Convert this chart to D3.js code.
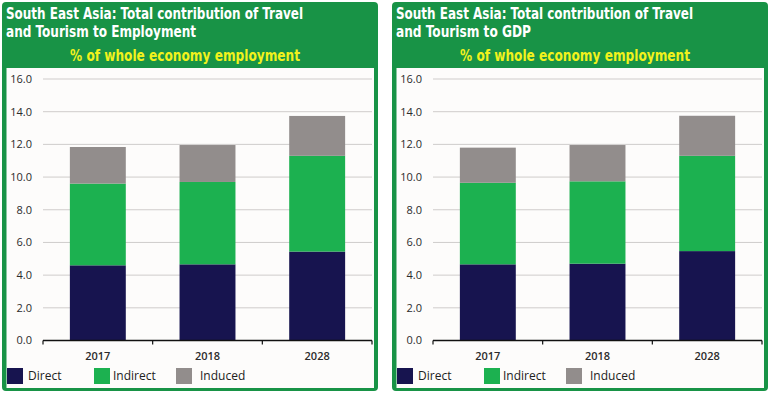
<!DOCTYPE html>
<html>
<head>
<meta charset="utf-8">
<script src="https://cdn.jsdelivr.net/npm/d3@7"></script>
<style>
  body { margin: 0; background: #fff; }
  svg { display: block; }
</style>
</head>
<body>
<svg width="770" height="393"></svg>
<script>
// data
const years = ['2017', '2018', '2028']
const seriesNames = ['Direct', 'Indirect', 'Induced']
const yTicks = [0, 2, 4, 6, 8, 10, 12, 14, 16]

const employmentDirect = [4.6, 4.66, 5.44]
const employmentIndirect = [5.0, 5.04, 5.86]
const employmentInduced = [2.24, 2.26, 2.44]

const gdpDirect = [4.66, 4.7, 5.47]
const gdpIndirect = [4.99, 5.04, 5.83]
const gdpInduced = [2.15, 2.22, 2.45]

const titles = [
  ['South East Asia: Total contribution of Travel', 'and Tourism to Employment'],
  ['South East Asia: Total contribution of Travel', 'and Tourism to GDP']
]
const subtitle = '% of whole economy employment'

let svg = d3.select('svg')

const frameGreen = '#189346'
const colors = {
  Direct: '#17144f',
  Indirect: '#1cb150',
  Induced: '#928d8c'
}

// shared scales (panel-relative coords)
const y = d3.scaleLinear().domain([0, 16]).range([338.5, 77])
const x = d3
  .scaleBand()
  .domain(years)
  .range([41, 370])
  .paddingInner(0.49)
  .paddingOuter(0.245)

const condensed = "'Liberation Sans Narrow', 'DejaVu Sans Condensed', sans-serif"

const drawPanel = (px, lines, direct, indirect, induced) => {
  let g = svg.append('g').attr('transform', `translate(${px}, 2)`)

  // frame
  g.append('rect')
    .attr('width', 376)
    .attr('height', 389)
    .attr('rx', 4)
    .attr('fill', frameGreen)
  g.append('rect')
    .attr('x', 4.5)
    .attr('y', 66)
    .attr('width', 367.5)
    .attr('height', 320)
    .attr('fill', '#fdfcfb')

  // titles
  const titleWidths = [297, lines[1].length > 20 ? 190 : 135]
  lines.forEach((t, i) => {
    g.append('text')
      .attr('x', 4)
      .attr('y', 17 + i * 18)
      .attr('fill', '#fff')
      .attr('font-family', condensed)
      .attr('font-weight', 'bold')
      .attr('font-size', 16)
      .attr('textLength', titleWidths[i])
      .attr('lengthAdjust', 'spacingAndGlyphs')
      .text(t)
  })
  g.append('text')
    .attr('x', 68)
    .attr('y', 58.5)
    .attr('fill', '#f2f21c')
    .attr('font-family', condensed)
    .attr('font-weight', 'bold')
    .attr('font-size', 16.5)
    .attr('textLength', 230)
    .attr('lengthAdjust', 'spacingAndGlyphs')
    .text(subtitle)

  // gridlines + y labels
  g.append('g')
    .selectAll('line')
    .data(yTicks.filter(d => d > 0))
    .enter()
    .append('line')
    .attr('x1', 41)
    .attr('x2', 370)
    .attr('y1', d => y(d))
    .attr('y2', d => y(d))
    .attr('stroke', '#cfcccb')
    .attr('stroke-width', 1)

  g.append('g')
    .selectAll('text')
    .data(yTicks)
    .enter()
    .append('text')
    .attr('x', 30)
    .attr('y', d => y(d))
    .attr('dy', '0.35em')
    .attr('text-anchor', 'end')
    .attr('font-family', "'Open Sans', sans-serif")
    .attr('font-size', 11)
    .attr('fill', '#2b2b2b')
    .text(d3.format('.1f'))

  // stacked bars
  const rows = years.map((yr, i) => ({
    year: yr,
    Direct: direct[i],
    Indirect: indirect[i],
    Induced: induced[i]
  }))
  const stacked = d3.stack().keys(seriesNames)(rows)
  g.append('g')
    .selectAll('g')
    .data(stacked)
    .enter()
    .append('g')
    .attr('fill', d => colors[d.key])
    .selectAll('rect')
    .data(d => d)
    .enter()
    .append('rect')
    .attr('x', d => x(d.data.year))
    .attr('width', x.bandwidth())
    .attr('y', d => y(d[1]))
    .attr('height', d => y(d[0]) - y(d[1]))

  // x axis: line, boundary ticks, labels
  const axisY = y(0)
  const bounds = d3.range(years.length + 1).map(i => x.range()[0] + i * x.step())
  g.append('line')
    .attr('x1', bounds[0])
    .attr('x2', bounds[bounds.length - 1])
    .attr('y1', axisY)
    .attr('y2', axisY)
    .attr('stroke', '#111')
    .attr('stroke-width', 1.5)
  g.append('g')
    .selectAll('line')
    .data(bounds)
    .enter()
    .append('line')
    .attr('x1', d => d)
    .attr('x2', d => d)
    .attr('y1', axisY)
    .attr('y2', axisY + 4)
    .attr('stroke', '#111')
    .attr('stroke-width', 1.2)
  g.append('g')
    .selectAll('text')
    .data(years)
    .enter()
    .append('text')
    .attr('x', d => x(d) + x.bandwidth() / 2)
    .attr('y', axisY + 19)
    .attr('text-anchor', 'middle')
    .attr('font-family', "'Open Sans', sans-serif")
    .attr('font-weight', 600)
    .attr('font-size', 11)
    .attr('fill', '#2b2b2b')
    .text(d => d)

  // legend
  const legendX = [5, 92, 174]
  const labelGap = [21, 19, 24]
  let legend = g.append('g').attr('transform', 'translate(0, 366)')
  seriesNames.forEach((s, i) => {
    legend.append('rect')
      .attr('x', legendX[i])
      .attr('y', 0)
      .attr('width', 16)
      .attr('height', 16)
      .attr('fill', colors[s])
    legend.append('text')
      .attr('x', legendX[i] + labelGap[i])
      .attr('y', 12)
      .attr('font-family', "'Open Sans', sans-serif")
      .attr('font-size', 12)
      .attr('fill', '#222')
      .text(s)
  })
}

drawPanel(2, titles[0], employmentDirect, employmentIndirect, employmentInduced)
drawPanel(392, titles[1], gdpDirect, gdpIndirect, gdpInduced)
</script>
</body>
</html>
